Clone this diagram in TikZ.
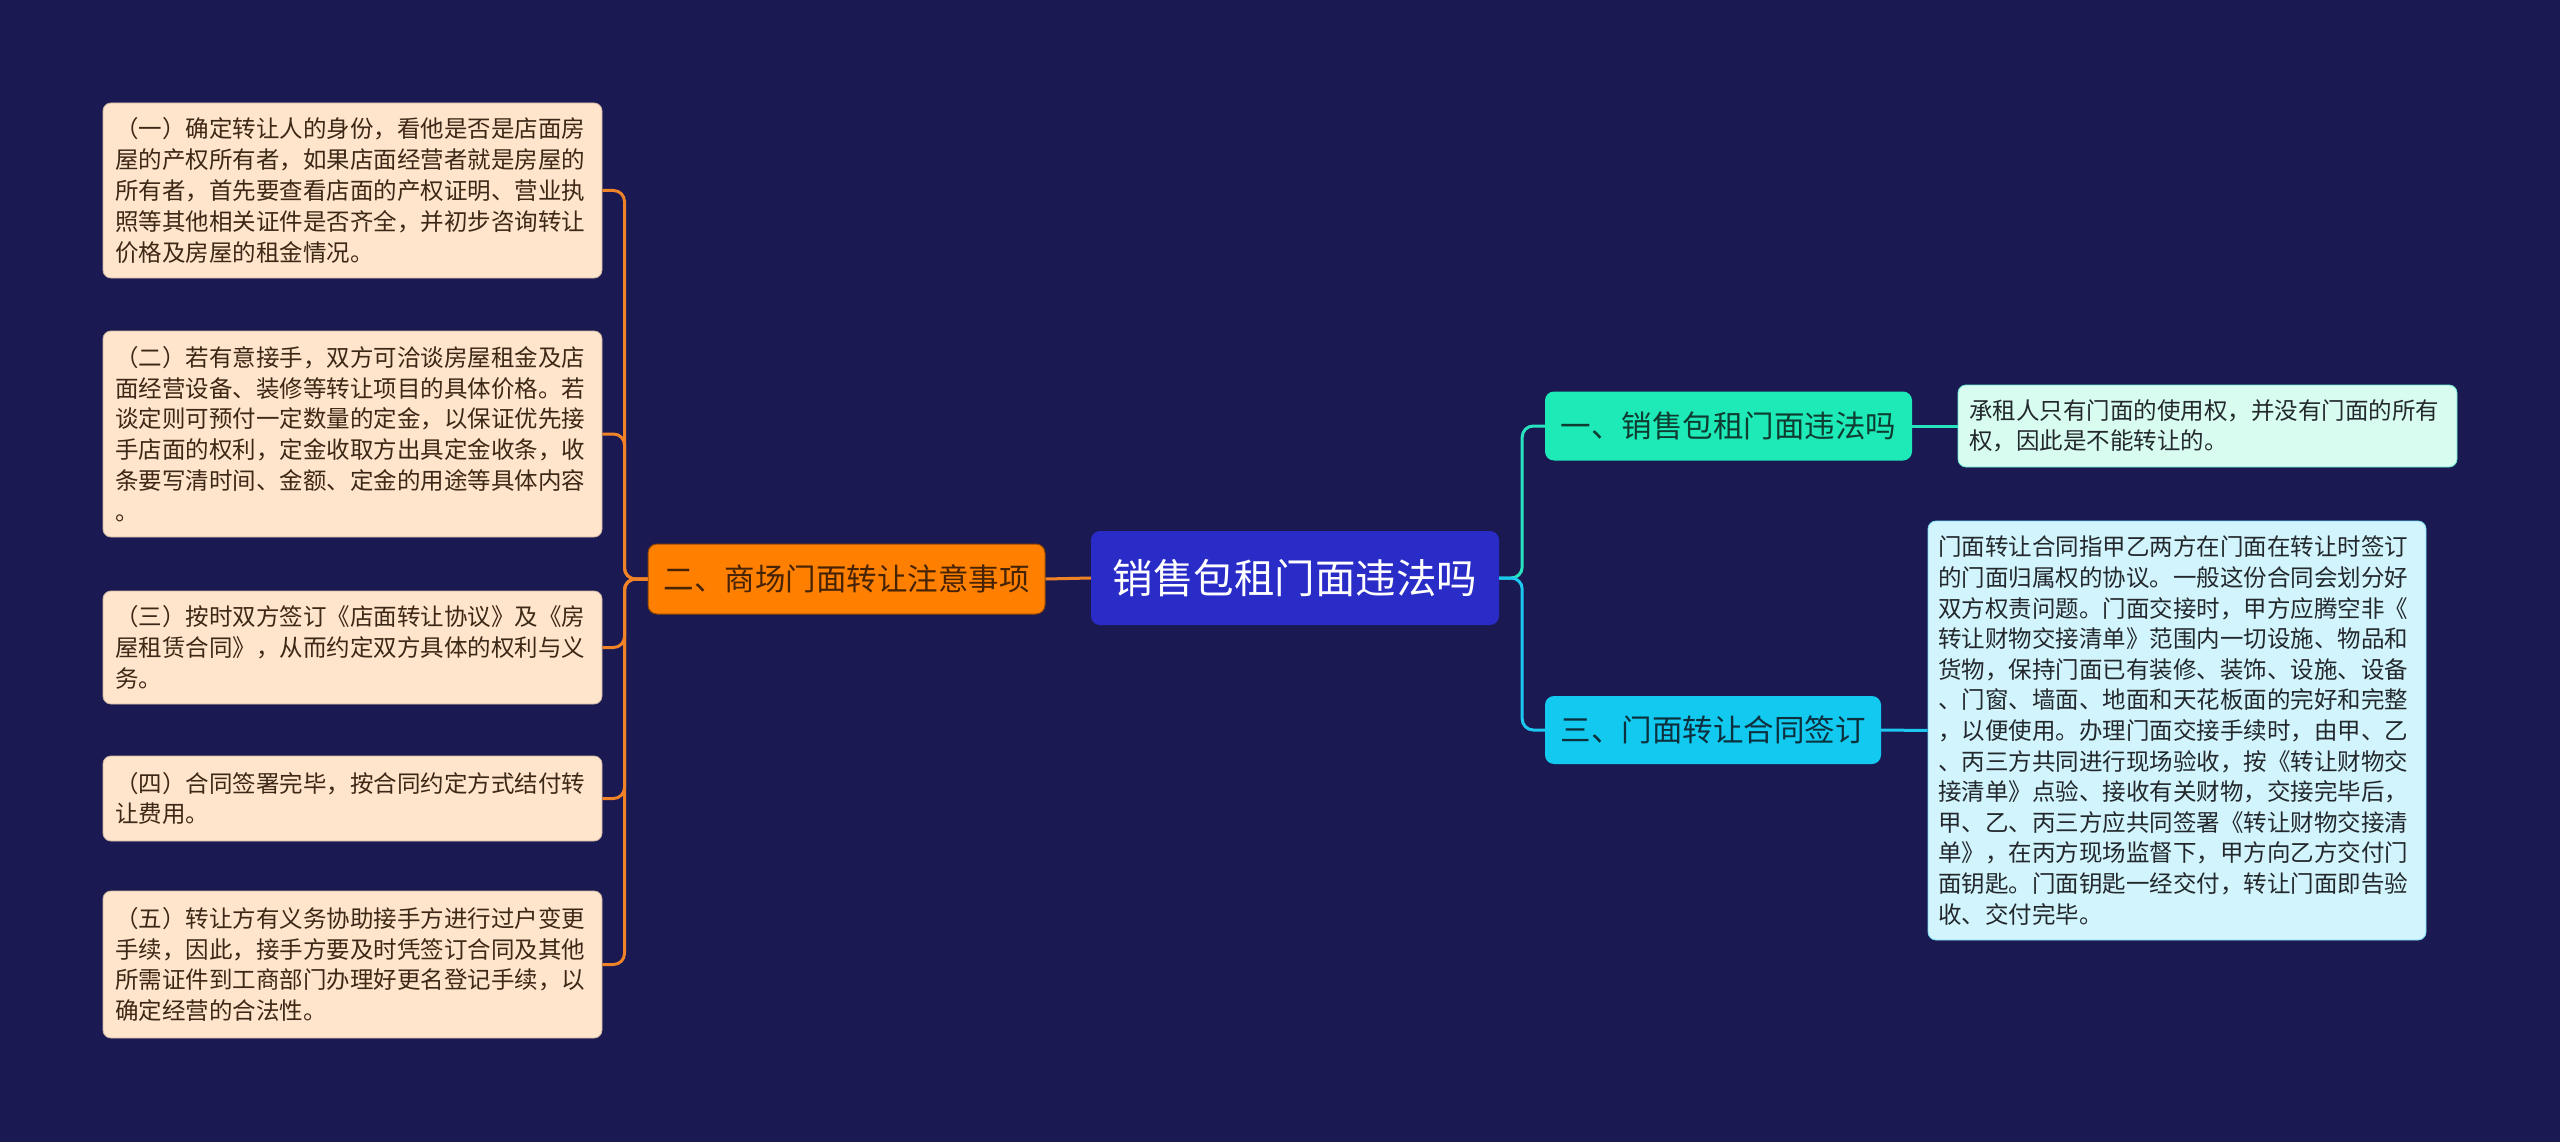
\documentclass[tikz,border=0pt]{standalone}
\usepackage{fontspec}
\newfontfamily\cjk{Noto Sans CJK SC}
\definecolor{bg}{RGB}{27,25,82}
\definecolor{rootfill}{RGB}{42,44,200}
\definecolor{orangefill}{RGB}{255,128,0}
\definecolor{orangeline}{RGB}{240,130,40}
\definecolor{orangetext}{RGB}{70,35,5}
\definecolor{peachfill}{RGB}{255,229,204}
\definecolor{peachtext}{RGB}{60,40,22}
\definecolor{tealfill}{RGB}{30,234,184}
\definecolor{tealline}{RGB}{40,228,190}
\definecolor{tealtext}{RGB}{14,60,48}
\definecolor{mintfill}{RGB}{216,252,240}
\definecolor{cyanfill}{RGB}{18,202,240}
\definecolor{cyanline}{RGB}{28,200,240}
\definecolor{cyantext}{RGB}{12,48,62}
\definecolor{icefill}{RGB}{210,244,252}
\definecolor{leaftext}{RGB}{35,40,45}
\tikzset{
  leafL/.style={fill=peachfill, draw=peachfill!80!black, line width=0.8pt, rounded corners=8pt,
    text=peachtext, font={\cjk\fontsize{23.5}{30.8}\selectfont}, align=left,
    text width=475pt, inner xsep=12pt, inner ysep=0pt},
  leafR/.style={rounded corners=8pt, line width=0.8pt, text=leaftext,
    font={\cjk\fontsize{23.5}{30.6}\selectfont}, align=left, inner ysep=0pt},
  mainbox/.style={rounded corners=9pt, font={\cjk\fontsize{30.5}{36}\selectfont}, inner sep=0pt},
  conn/.style={line width=3pt, rounded corners=11pt},
}
\begin{document}
\begin{tikzpicture}[x=1pt,y=-1pt]
\fill[bg] (0,0) rectangle (2560,1142);
\useasboundingbox (0,0) rectangle (2560,1142);

% root
\node[mainbox, fill=rootfill, text=white, minimum width=408pt, minimum height=94pt,
  font={\cjk\fontsize{40.5}{48}\selectfont}] (root) at (1295,578) {销售包租门面违法吗};

% left branch
\node[mainbox, fill=orangefill, draw=orangefill!55!black, line width=1pt, text=orangetext,
  minimum width=397pt, minimum height=70pt] (b2) at (846.5,579) {二、商场门面转让注意事项};

\node[leafL, minimum height=175pt] (l1) at (352.5,190.5) {（一）确定转让人的身份，看他是否是店面房\\屋的产权所有者，如果店面经营者就是房屋的\\所有者，首先要查看店面的产权证明、营业执\\照等其他相关证件是否齐全，并初步咨询转让\\价格及房屋的租金情况。};
\node[leafL, minimum height=206pt] (l2) at (352.5,434) {（二）若有意接手，双方可洽谈房屋租金及店\\面经营设备、装修等转让项目的具体价格。若\\谈定则可预付一定数量的定金，以保证优先接\\手店面的权利，定金收取方出具定金收条，收\\条要写清时间、金额、定金的用途等具体内容\\。};
\node[leafL, minimum height=113pt] (l3) at (352.5,647.5) {（三）按时双方签订《店面转让协议》及《房\\屋租赁合同》，从而约定双方具体的权利与义\\务。};
\node[leafL, minimum height=85pt] (l4) at (352.5,798.5) {（四）合同签署完毕，按合同约定方式结付转\\让费用。};
\node[leafL, minimum height=147pt] (l5) at (352.5,964.5) {（五）转让方有义务协助接手方进行过户变更\\手续，因此，接手方要及时凭签订合同及其他\\所需证件到工商部门办理好更名登记手续，以\\确定经营的合法性。};

% right branches
\node[mainbox, fill=tealfill, text=tealtext, minimum width=367pt, minimum height=69pt] (b1) at (1728.5,426) {一、销售包租门面违法吗};
\node[mainbox, fill=cyanfill, text=cyantext, minimum width=336pt, minimum height=68pt] (b3) at (1713,730) {三、门面转让合同签订};

\node[leafR, fill=mintfill, draw=tealline!70!white, text width=477pt, inner xsep=11pt, minimum height=82pt] (r1) at (2207.5,426) {承租人只有门面的使用权，并没有门面的所有\\权，因此是不能转让的。};
\node[leafR, fill=icefill, draw=cyanline!60!white, text width=478pt, inner xsep=10pt, minimum height=419pt] (r3) at (2177,730.5) {门面转让合同指甲乙两方在门面在转让时签订\\的门面归属权的协议。一般这份合同会划分好\\双方权责问题。门面交接时，甲方应腾空非《\\转让财物交接清单》范围内一切设施、物品和\\货物，保持门面已有装修、装饰、设施、设备\\、门窗、墙面、地面和天花板面的完好和完整\\，以便使用。办理门面交接手续时，由甲、乙\\、丙三方共同进行现场验收，按《转让财物交\\接清单》点验、接收有关财物，交接完毕后，\\甲、乙、丙三方应共同签署《转让财物交接清\\单》，在丙方现场监督下，甲方向乙方交付门\\面钥匙。门面钥匙一经交付，转让门面即告验\\收、交付完毕。};

% connectors
\begin{scope}[on background layer/.style={}]
\draw[conn, orangeline] (root.west) -- (b2.east);
\foreach \n in {l1,l2,l3,l4,l5}{
  \draw[conn, orangeline] (b2.west) -- ++(-23,0) |- (\n.east);
}
\draw[conn, tealline] (root.east) -- ++(23,0) |- (b1.west);
\draw[conn, cyanline] (root.east) -- ++(23,0) |- (b3.west);
\draw[conn, tealline] (b1.east) -- (r1.west);
\draw[conn, cyanline] (b3.east) -- (r3.west);
\end{scope}
\end{tikzpicture}
\end{document}
